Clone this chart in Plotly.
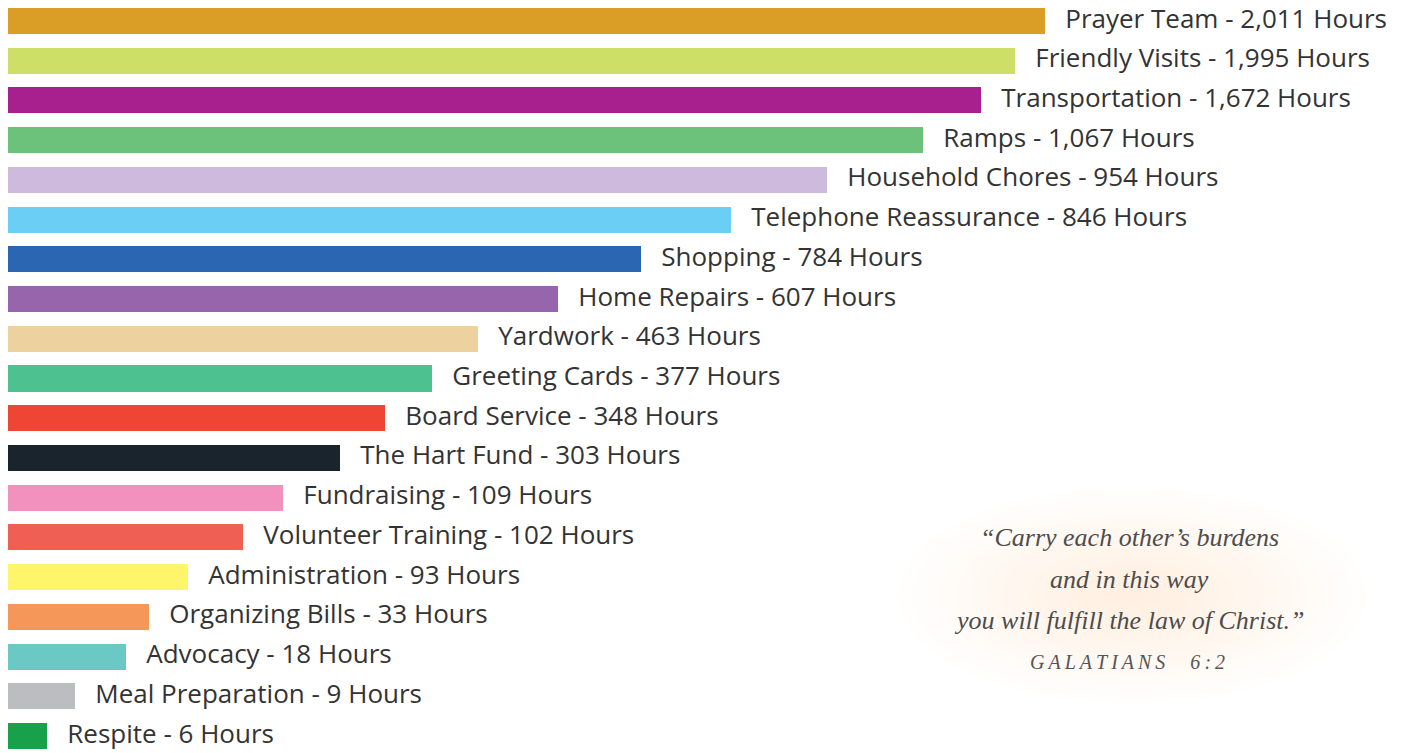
import plotly.graph_objects as go

activities = ["Prayer Team", "Friendly Visits", "Transportation", "Ramps", "Household Chores",
              "Telephone Reassurance", "Shopping", "Home Repairs", "Yardwork", "Greeting Cards",
              "Board Service", "The Hart Fund", "Fundraising", "Volunteer Training", "Administration",
              "Organizing Bills", "Advocacy", "Meal Preparation", "Respite"]
hours = [2011, 1995, 1672, 1067, 954, 846, 784, 607, 463, 377, 348, 303, 109, 102, 93, 33, 18, 9, 6]
# displayed bar lengths (infographic scale)
bar_display = [1037, 1007, 973, 915, 819, 723, 633, 550, 470, 424, 377, 332, 275, 235, 180, 141, 118, 67, 39]
colors = ["#DA9E27", "#CDDF67", "#A81F8E", "#6CC27A", "#CDBADC", "#6BCFF5", "#2A66B1", "#9665AB",
          "#EDD29F", "#4DC190", "#EE4535", "#19242D", "#F291BE", "#EF5F54", "#FEF56A", "#F6975A",
          "#6AC9C4", "#BCBDC0", "#18A14A"]
labels = [f"{a} - {h:,} Hours" for a, h in zip(activities, hours)]

W, H = 1406, 753
OFF = 8  # page body margin
fig = go.Figure()
fig.add_trace(go.Bar(
    x=bar_display, y=list(range(len(activities))), orientation="h",
    marker=dict(color=colors, line=dict(width=0)), width=0.655,
    hoverinfo="text", hovertext=labels, showlegend=False,
))
fig.add_trace(go.Scatter(
    x=bar_display, y=list(range(len(activities))), mode="text",
    text=["\u00a0" * 3 + l for l in labels], textposition="middle right",
    textfont=dict(family="Open Sans, sans-serif", size=26, color="#333333"),
    hoverinfo="skip", showlegend=False, cliponaxis=False,
))


def px(x):
    return (x - OFF) / W


def py(y):
    return 1 - (y - OFF) / H


# soft pink glow behind the quote
shapes = []
cx, cy = px(1132), py(595)
n = 16
for i in range(n):
    f = 1 - i / n
    rx = 235 * f / W
    ry = 108 * f / H
    shapes.append(dict(type="circle", xref="paper", yref="paper",
                       x0=cx - rx, x1=cx + rx, y0=cy - ry, y1=cy + ry,
                       fillcolor="#F8DCD6", opacity=0.04, line=dict(width=0), layer="below"))

quote_font = dict(family="Liberation Serif, serif", size=26, color="#4d4d4d")
common = dict(xref="paper", yref="paper", showarrow=False, xanchor="center", yanchor="middle")
annotations = [
    dict(x=px(1129), y=py(537), text="<i>\u201cCarry each other\u2019s burdens</i>", font=quote_font, **common),
    dict(x=px(1129), y=py(579), text="<i>and in this way</i>", font=quote_font, **common),
    dict(x=px(1129), y=py(620), text="<i>you will fulfill the law of Christ.\u201d</i>", font=quote_font, **common),
    dict(x=px(1127), y=py(662),
         text="<i>G\u2009A\u2009L\u2009A\u2009T\u2009I\u2009A\u2009N\u2009S\u2003 6\u2009:\u20092</i>",
         font=dict(family="Liberation Serif, serif", size=20, color="#555555"), **common),
]

fig.update_layout(
    width=W, height=H, margin=dict(l=0, r=0, t=0, b=0),
    paper_bgcolor="white", plot_bgcolor="rgba(0,0,0,0)",
    xaxis=dict(range=[0, W], visible=False, fixedrange=True),
    yaxis=dict(range=[18.629, -0.327], visible=False, fixedrange=True),
    shapes=shapes, annotations=annotations, bargap=0,
)
fig.write_html("out.html")
